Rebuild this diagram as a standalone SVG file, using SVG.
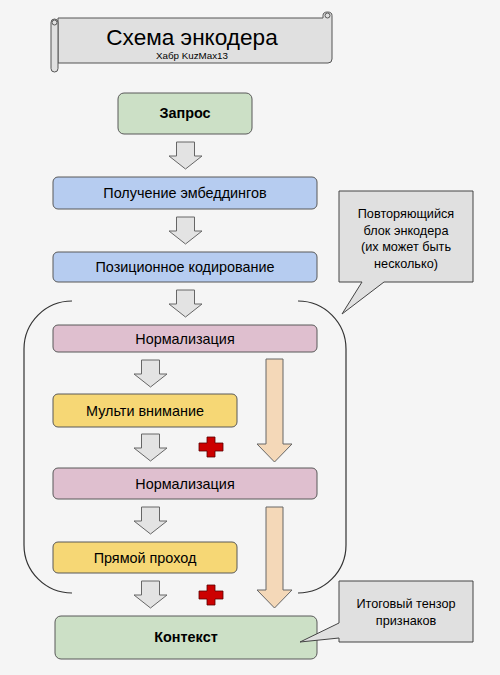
<svg xmlns="http://www.w3.org/2000/svg" xmlns:xlink="http://www.w3.org/1999/xlink" width="500" height="675" viewBox="0 0 500 675">
<style>
text{font-family:"Liberation Sans",Arial,sans-serif;fill:#000;text-anchor:middle}
.box{stroke:#595959;stroke-width:1}
.lbl{font-size:14.4px}
.b{font-weight:bold}
.green{fill:#cce0c6}
.blue{fill:#b6ccf0}
.pink{fill:#dfbfcf}
.yellow{fill:#f6d775}
.garrow{fill:#e3e3e3;stroke:#666;stroke-width:1}
.oarrow{fill:#f4d8b8;stroke:#666;stroke-width:1}
.plus{fill:#cc0000;stroke:#5a0000;stroke-width:0.8}
.brace{fill:none;stroke:#333;stroke-width:1.2}
.callout{fill:#e0e0e0;stroke:#444;stroke-width:1}
.ct{font-size:12.7px}
</style>
<defs>
<path id="ga" d="M-9,0 H9 V14 H16.5 L0,27 L-16.5,14 H-9 Z"/>
<path id="pl" d="M-4,-10 H4 V-4 H12 V4 H4 V10 H-4 V4 H-12 V-4 H-4 Z"/>
</defs>
<rect width="500" height="675" fill="#f5f5f5"/>

<g id="title">
<path d="M58,18 H323 V15.5 A4.5,3.5 0 0 1 332,15.5 V59 Q332,63 328,63 H58 Z" fill="#e0e0e0" stroke="#555" stroke-width="1"/>
<circle cx="327.5" cy="15.5" r="2.5" fill="none" stroke="#555" stroke-width="1"/>
<rect x="51" y="19" width="7" height="53" rx="3.5" fill="#e0e0e0" stroke="#555" stroke-width="1"/>
<circle cx="54.5" cy="22.5" r="2.5" fill="none" stroke="#555" stroke-width="1"/>
<text x="192" y="45" style="font-size:22.6px">Схема энкодера</text>
<text x="192" y="59" style="font-size:9.8px">Хабр KuzMax13</text>
</g>

<g id="connectors">
<use xlink:href="#ga" class="garrow" x="185.5" y="142"/>
<use xlink:href="#ga" class="garrow" x="185.5" y="217"/>
<use xlink:href="#ga" class="garrow" x="185.5" y="290"/>
<use xlink:href="#ga" class="garrow" x="150.5" y="360"/>
<use xlink:href="#ga" class="garrow" x="150.5" y="434"/>
<use xlink:href="#ga" class="garrow" x="150.5" y="507"/>
<use xlink:href="#ga" class="garrow" x="150.5" y="581"/>
<path class="oarrow" d="M266,359 H283 V444 H292 L274.5,462 L257,444 H266 Z"/>
<path class="oarrow" d="M266,507 H283 V590 H292 L274.5,608 L257,590 H266 Z"/>
<use xlink:href="#pl" class="plus" x="211" y="447"/>
<use xlink:href="#pl" class="plus" x="211" y="595"/>
<path class="brace" d="M72,301 A48,48 0 0 0 24,349 V545 A48,48 0 0 0 72,593"/>
<path class="brace" d="M298,301 A48,48 0 0 1 346,349 V545 A48,48 0 0 1 298,593"/>
</g>

<g id="n-zapros">
<rect class="box green" x="118" y="93" width="134" height="41" rx="6"/>
<text class="lbl b" x="185" y="118">Запрос</text>
</g>
<g id="n-emb">
<rect class="box blue" x="53" y="177" width="264" height="32" rx="5"/>
<text class="lbl" x="185" y="198">Получение эмбеддингов</text>
</g>
<g id="n-pos">
<rect class="box blue" x="53" y="252" width="264" height="30" rx="5"/>
<text class="lbl" x="185" y="272">Позиционное кодирование</text>
</g>
<g id="n-norm1">
<rect class="box pink" x="53" y="325" width="264" height="27" rx="5"/>
<text class="lbl" x="185" y="343.5">Нормализация</text>
</g>
<g id="n-attn">
<rect class="box yellow" x="53" y="394" width="184" height="33" rx="5"/>
<text class="lbl" x="145" y="415.5">Мульти внимание</text>
</g>
<g id="n-norm2">
<rect class="box pink" x="53" y="468" width="264" height="31" rx="5"/>
<text class="lbl" x="185" y="488.5">Нормализация</text>
</g>
<g id="n-ff">
<rect class="box yellow" x="53" y="542" width="184" height="31" rx="5"/>
<text class="lbl" x="145" y="562.5">Прямой проход</text>
</g>
<g id="n-context">
<rect class="box green" x="55" y="616" width="262" height="43" rx="6"/>
<text class="lbl b" x="186" y="642">Контекст</text>
</g>

<g id="callout-block">
<path class="callout" d="M339,191 H473 V282 H384 L342,314 L362,282 H339 Z"/>
<text class="ct" x="406" y="218">Повторяющийся</text>
<text class="ct" x="406" y="234.5">блок энкодера</text>
<text class="ct" x="406" y="251">(их может быть</text>
<text class="ct" x="406" y="267.5">несколько)</text>
</g>
<g id="callout-result">
<path class="callout" d="M339,581 H473 V642 H339 V638 L300,642 L339,623 Z"/>
<text class="ct" x="406" y="608">Итоговый тензор</text>
<text class="ct" x="406" y="624.5">признаков</text>
</g>
</svg>
